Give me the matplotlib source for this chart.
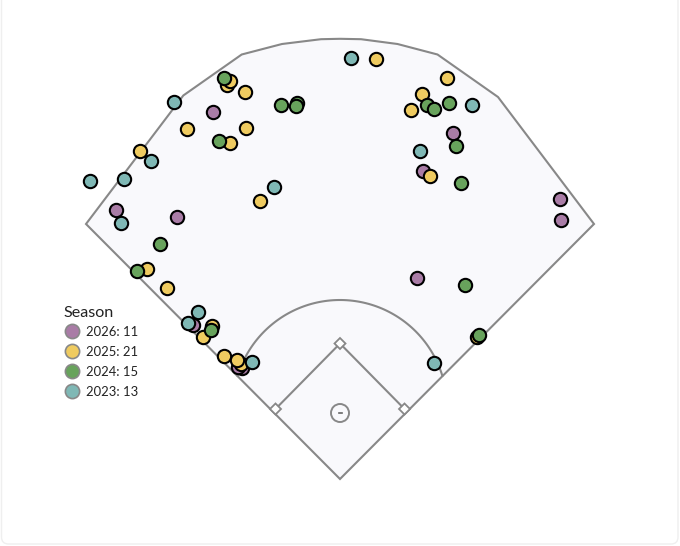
import numpy as np
import matplotlib
matplotlib.use('Agg')
import matplotlib.pyplot as plt
from matplotlib.patches import Polygon, Circle, FancyBboxPatch

plt.rcParams['font.family'] = ['Lato', 'DejaVu Sans']

# hit locations in image pixels
seasons = ['2026', '2025', '2024', '2023']
colors = ['#A97CA6', '#EFCB60', '#68A35C', '#7FB8B5']

x_2026 = [213, 116, 177, 452.7, 423.3, 560, 561, 417, 193, 241.7, 238]
y_2026 = [111.7, 210, 217, 133.3, 170.7, 199, 219.7, 277.7, 325, 367.5, 367]

x_2025 = [227.3, 230.3, 244.7, 187, 246.3, 230, 140.3, 260.3, 147.3, 167.3, 376,
          447, 422.3, 411, 430.3, 211.7, 202.7, 224, 240.5, 237, 477]
y_2025 = [85, 80.7, 91.7, 129, 128.3, 142.7, 150.7, 201, 268.7, 287.7, 59.3,
          78.3, 94, 109.7, 175.7, 326, 336.7, 356, 364, 360, 337]

x_2024 = [223.7, 281, 297, 295.7, 219, 159.7, 136.7, 427.3, 434.3, 449.3, 456,
          460.7, 465, 210.7, 478.5]
y_2024 = [78.3, 105.3, 103, 106, 141, 244.3, 270.7, 104.7, 109.3, 103, 146.3,
          183.3, 285.3, 330, 335]

x_2023 = [173.5, 151, 124.3, 89.5, 120.7, 273.7, 351.3, 472.3, 419.7, 198.3,
          188.3, 252, 434]
y_2023 = [102, 161, 178.7, 181.3, 223.3, 186.7, 58, 104.7, 151.3, 312.3,
          322.7, 362, 362.7]

series_x = [x_2026, x_2025, x_2024, x_2023]
series_y = [y_2026, y_2025, y_2024, y_2023]

# field outline
field_x = [340, 86, 183.3, 241.7, 282, 321, 340, 361, 397.5, 437.5, 498, 594]
field_y = [479, 224, 95.5, 54.5, 44, 39.2, 38.8, 39.2, 44, 54.5, 97, 224]

line_col = '#888888'

fig = plt.figure(figsize=(6.8, 5.46), dpi=100)
ax = fig.add_axes([0, 0, 1, 1])
ax.set_xlim(0, 680)
ax.set_ylim(546, 0)
ax.axis('off')

# card border
ax.add_patch(FancyBboxPatch((1.5, -30), 676.5, 574, boxstyle='round,pad=0,rounding_size=7',
                            fc='white', ec='#EFEFEF', lw=1, zorder=0))

ax.add_patch(Polygon(np.column_stack([field_x, field_y]), closed=True, fc='#F9F9FC',
                     ec=line_col, lw=1.5, joinstyle='miter', zorder=1))

# infield arc
a = np.linspace(np.radians(197), np.radians(343), 100)
ax.plot(340 + 107*np.cos(a), 407 + 107*np.sin(a), color=line_col, lw=1.5, zorder=2)

# diamond
ax.plot([275.5, 340, 404.5], [409, 343.5, 409], color=line_col, lw=1.5, zorder=2)
for bx, by in [(275.5, 409), (340, 343.5), (404.5, 409)]:
    ax.add_patch(Polygon([(bx-5.5, by), (bx, by-5.5), (bx+5.5, by), (bx, by+5.5)], closed=True,
                         fc='white', ec=line_col, lw=1.3, zorder=3))

# mound
ax.add_patch(Circle((340, 413), 9, fc='none', ec=line_col, lw=1.4, zorder=3))
ax.plot([338.5, 341.5], [413, 413], color='#666666', lw=1.2, zorder=3)

# hits
for i in range(len(seasons)):
    ax.scatter(series_x[i], series_y[i], s=92, c=colors[i], edgecolors='black',
               linewidths=1.5, zorder=4+i)

# legend
ax.text(63.5, 313, 'Season', fontsize=11.6, color='#222222', va='center', ha='left')
leg_y = [331, 351, 370.7, 390.7]
for i in range(len(seasons)):
    ax.scatter([71.7], [leg_y[i]], s=105, c=colors[i], edgecolors=line_col, linewidths=1.2, zorder=4)
    ax.text(86, leg_y[i] + 1.5, '%s: %d' % (seasons[i], len(series_x[i])), fontsize=9.4,
            color='#222222', va='center', ha='left')

fig.savefig('out.png', dpi=100)
